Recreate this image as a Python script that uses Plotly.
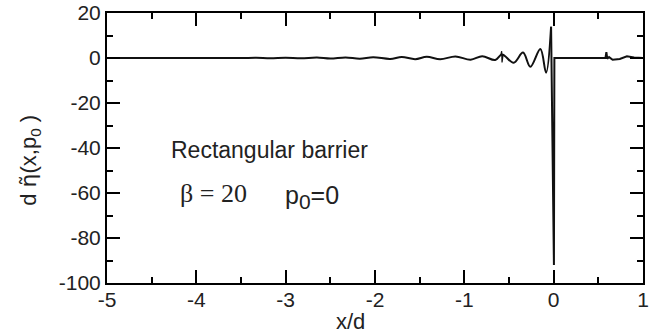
import plotly.graph_objects as go

# Oscillating part (x < 0), read at extrema
x_wave = [-5.0, -4.0, -3.5, -3.33, -3.17, -3.0, -2.83, -2.65, -2.5, -2.33, -2.17,
          -2.02, -1.83, -1.70, -1.55, -1.42, -1.27, -1.10, -0.93, -0.80, -0.654,
          -0.578, -0.448, -0.343, -0.261, -0.149, -0.085, -0.029]
y_wave = [0.0, 0.0, 0.0, 0.1, -0.1, 0.15, -0.15, 0.2, -0.25, 0.25, -0.3,
          0.35, -0.4, 0.45, -0.5, 0.55, -0.6, 0.7, -0.75, 0.8, -0.9,
          1.6, -2.1, 2.4, -3.9, 4.0, -6.5, 13.9]

# Small glitch near x = -0.58
x_glitch = [-0.592, -0.582, -0.578, -0.572, -0.566]
y_glitch = [1.3, 3.0, -2.0, 1.4, 1.5]

# Sharp dip at the barrier and the flat part beyond it
x_spike = [-0.029, 0.003, 0.008, 0.58, 0.59, 0.60, 0.62, 0.66, 0.74, 0.82, 0.90, 1.0]
y_spike = [13.9, -92.0, 0.0, 0.0, 2.6, -0.3, 0.4, -0.8, -0.4, 0.8, 0.2, 0.0]

x_ticks = [-5, -4, -3, -2, -1, 0, 1]
y_ticks = [-100, -80, -60, -40, -20, 0, 20]

line_style = dict(color="#111111", width=2)

fig = go.Figure()
fig.add_trace(go.Scatter(x=x_wave, y=y_wave, mode="lines", line=dict(**line_style, shape="spline"),
                         showlegend=False))
fig.add_trace(go.Scatter(x=x_glitch, y=y_glitch, mode="lines", line=dict(color="#111111", width=1.2),
                         showlegend=False))
fig.add_trace(go.Scatter(x=x_spike, y=y_spike, mode="lines", line=line_style, showlegend=False))

axis_common = dict(
    showline=True, linecolor="black", linewidth=2, mirror="allticks",
    ticks="inside", ticklen=13, tickwidth=1.5, tickcolor="black",
    showgrid=False, zeroline=False, automargin=False,
    tickfont=dict(family="Liberation Sans, Arial, sans-serif", size=21, color="#222"),
)

fig.update_xaxes(range=[-5, 1], tickvals=x_ticks, ticktext=[str(v) for v in x_ticks],
                 ticklabelstandoff=-3,
                 minor=dict(ticks="inside", ticklen=6, tickwidth=1.5, tickcolor="black", dtick=0.5),
                 **axis_common)
fig.update_yaxes(range=[-100, 20], tickvals=y_ticks, ticktext=[str(v) for v in y_ticks],
                 minor=dict(ticks="inside", ticklen=6, tickwidth=1.5, tickcolor="black", dtick=10),
                 **axis_common)

sans = "Liberation Sans, Arial, sans-serif"
serif = "Liberation Serif, Times New Roman, serif"
annotations = [
    dict(text="Rectangular barrier", x=0.304, y=0.4926, font=dict(family=sans, size=23, color="#222")),
    dict(text="β = 20", x=0.198, y=0.33, font=dict(family=serif, size=26, color="#222")),
    dict(text="p<sub><span style=\"font-size:21px\">0</span></sub>=0", x=0.3825, y=0.32,
         font=dict(family=sans, size=25, color="#222")),
    dict(text="x/d", x=0.455, y=-0.144, font=dict(family=sans, size=22, color="#222")),
    dict(text="d <span style=\"font-family:DejaVu Sans\">\u03b7\u0303</span>(x,p<sub>0</sub> )",
         x=-0.1437, y=0.456, textangle=-90,
         font=dict(family=sans, size=22, color="#222")),
]
for a in annotations:
    fig.add_annotation(xref="paper", yref="paper", showarrow=False,
                       xanchor="center", yanchor="middle", **a)

fig.update_layout(
    width=663, height=333,
    margin=dict(l=107, r=20, t=13, b=50),
    plot_bgcolor="white", paper_bgcolor="white",
)

# remove the default page margin so the figure sits at the window's corner
fig.write_html("out.html", config={"displayModeBar": False},
               post_script="document.body.style.margin='0';")
